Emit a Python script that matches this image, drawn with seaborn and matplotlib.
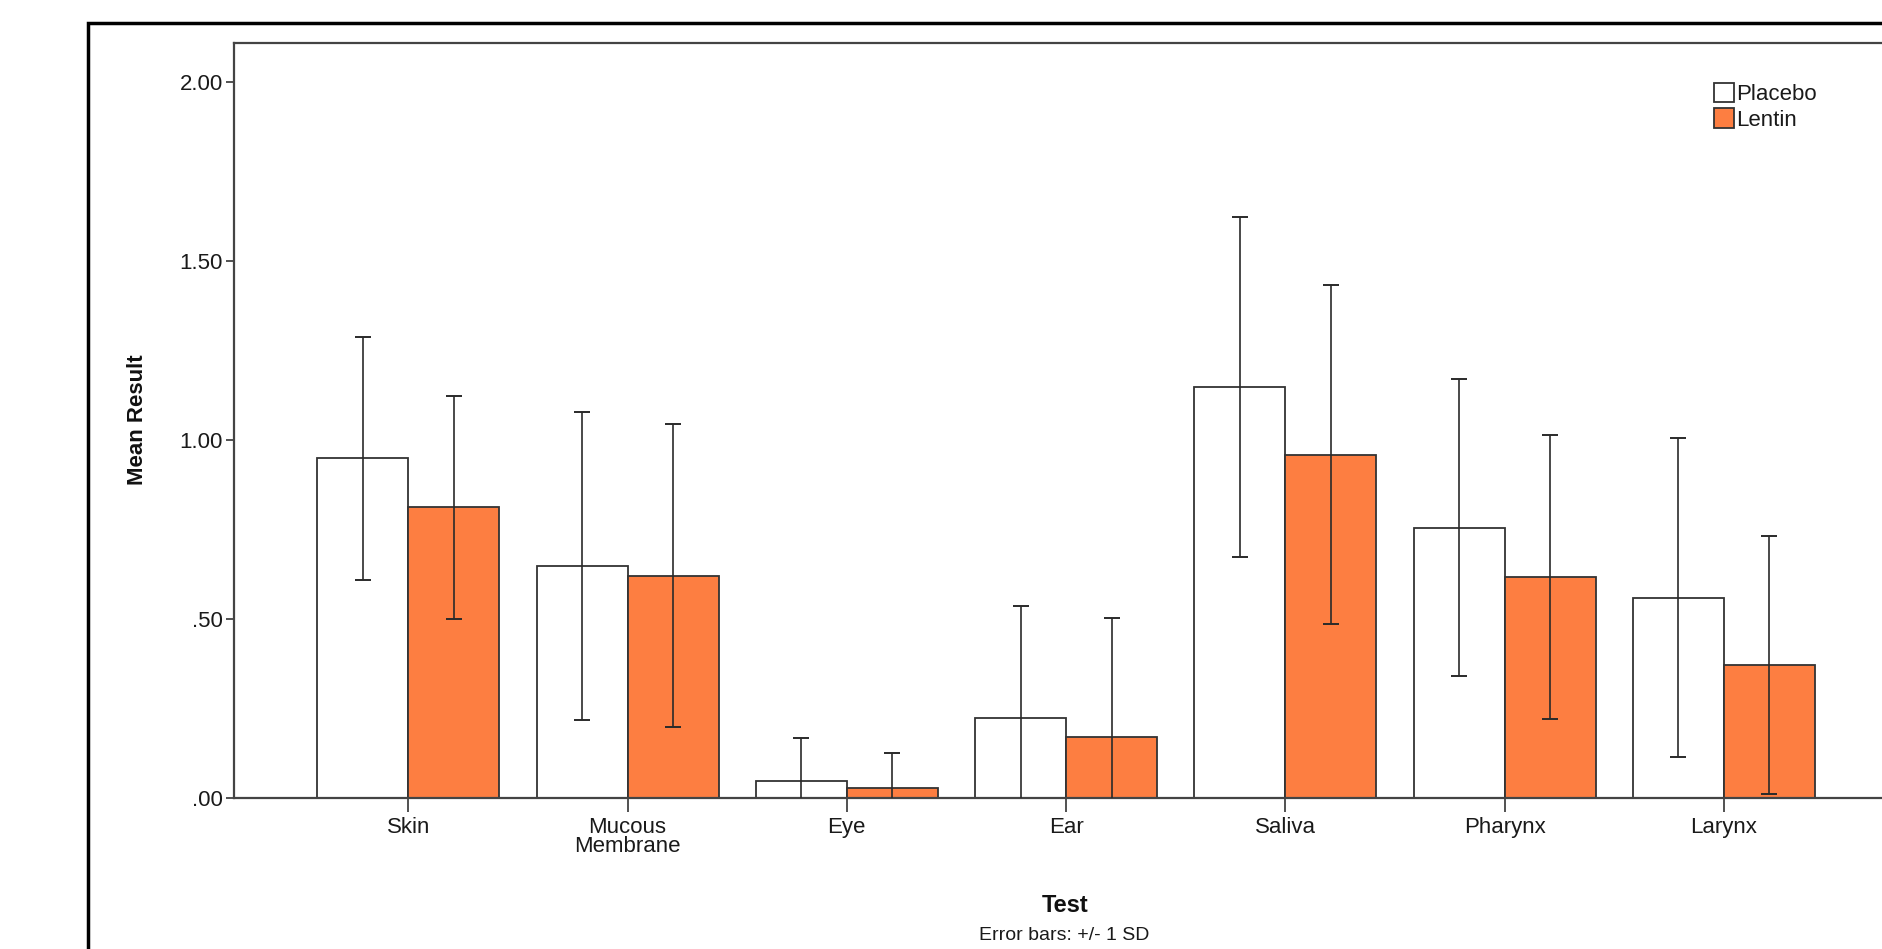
import matplotlib
matplotlib.use("Agg")
import matplotlib.pyplot as plt
from matplotlib.patches import Rectangle
import seaborn as sns
import pandas as pd
import numpy as np

# ---- data ----
tests = ["Skin", "Mucous\nMembrane", "Eye", "Ear", "Saliva", "Pharynx", "Larynx"]
groups = ["Placebo", "Lentin"]
placebo_mean = [0.948, 0.647, 0.047, 0.224, 1.146, 0.754, 0.559]
placebo_sd = [0.340, 0.430, 0.120, 0.312, 0.475, 0.415, 0.446]
lentin_mean = [0.811, 0.620, 0.027, 0.171, 0.958, 0.616, 0.372]
lentin_sd = [0.311, 0.423, 0.097, 0.331, 0.474, 0.397, 0.360]
ytick_values = [0.0, 0.5, 1.0, 1.5, 2.0]
ytick_labels = [".00", ".50", "1.00", "1.50", "2.00"]

orange = "#FD7E41"
edge = "#333333"

df = pd.DataFrame({
    "Test": tests * 2,
    "Group": ["Placebo"] * len(tests) + ["Lentin"] * len(tests),
    "Mean": placebo_mean + lentin_mean,
    "SD": placebo_sd + lentin_sd,
})

sns.set_theme(style="white")
plt.rcParams["font.family"] = ["Liberation Sans", "DejaVu Sans"]

fig = plt.figure(figsize=(18.82, 9.49), dpi=100)
ax = fig.add_axes([0.1244, 0.1593, 0.8954, 0.7952])

sns.barplot(data=df, x="Test", y="Mean", hue="Group", hue_order=groups,
            palette={"Placebo": "white", "Lentin": orange}, saturation=1,
            edgecolor=edge, linewidth=1.3, width=0.83, gap=0,
            errorbar=None, ax=ax)

# error bars at bar centres
sds = {"Placebo": placebo_sd, "Lentin": lentin_sd}
means = {"Placebo": placebo_mean, "Lentin": lentin_mean}
for cont, g in zip(ax.containers, groups):
    xs = [b.get_x() + b.get_width() / 2 for b in cont]
    ax.errorbar(xs, means[g], yerr=sds[g], fmt="none", ecolor="#2a2a2a",
                elinewidth=1.2, capsize=6, capthick=1.4, zorder=5)

ax.set_xlim(-0.794, 6.891)
ax.set_ylim(0, 2.107)
ax.set_yticks(ytick_values)
ax.set_yticklabels(ytick_labels, fontsize=16, color="#1a1a1a")
ax.tick_params(axis="x", labelsize=16, labelcolor="#1a1a1a", length=10,
               width=1.2, color="#333333", direction="out", bottom=True, pad=4)
ax.tick_params(axis="y", length=6, width=1.2, color="#333333",
               direction="out", left=True, pad=2)
for lbl in ax.get_xticklabels():
    lbl.set_linespacing(0.85)
ax.set_xlabel("")
ax.set_ylabel("")
for s in ["left", "top", "bottom", "right"]:
    ax.spines[s].set_color("#444444")
    ax.spines[s].set_linewidth(1.6)

# legend
handles, labels = ax.get_legend_handles_labels()
leg = ax.legend(handles, labels, loc="upper left",
                bbox_to_anchor=(0.9107, 0.913), bbox_transform=fig.transFigure,
                frameon=False, fontsize=16, handlelength=0.9, handleheight=1.0,
                handletextpad=0.1, labelspacing=0.15, borderpad=0, borderaxespad=0)
for t in leg.get_texts():
    t.set_color("#1a1a1a")

fig.text(0.0733, 0.5575, "Mean Result", rotation=90, ha="center", va="center",
         fontsize=16, fontweight="bold", color="#111111")
fig.text(0.5657, 0.0455, "Test", ha="center", va="center", fontsize=17,
         fontweight="bold", color="#111111")
fig.text(0.5657, 0.0139, "Error bars: +/- 1 SD", ha="center", va="center",
         fontsize=14, color="#1a1a1a")

# outer frame
fig.patches.append(Rectangle((0.0466, -0.2), 1.2, 1.176, transform=fig.transFigure,
                             fill=False, edgecolor="black", linewidth=2.5,
                             clip_on=False))

fig.savefig("out.png", dpi=100, facecolor="white")
